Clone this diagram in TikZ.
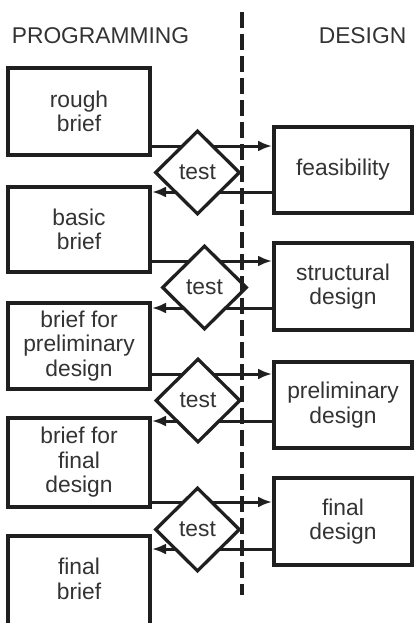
\documentclass[tikz,border=0pt]{standalone}
\usepackage{fontspec}
\setmainfont{Liberation Sans}
\usetikzlibrary{shapes.geometric,arrows.meta}
\tikzset{
  box/.style={draw=black!88, line width=4pt, align=center, inner sep=0pt, text=black!80,
    font=\fontsize{22.8}{24.5}\selectfont},
  testd/.style={diamond, draw=black!88, fill=white, line width=3.3pt, inner sep=0pt,
    minimum width=85pt, minimum height=84pt, text=black!80, font=\fontsize{22.8}{24.5}\selectfont},
  arr/.style={draw=black!88, line width=3pt, -{Latex[length=14pt,width=11pt]}},
  divider/.style={draw=black!88, line width=4pt, dash pattern=on 16pt off 6pt},
  header/.style={inner sep=0pt, text=black!80, font=\fontsize{22.8}{24.5}\selectfont}
}
\begin{document}
\begin{tikzpicture}[x=1pt,y=-1pt]
\useasboundingbox (0,0) rectangle (414,623);
\clip (0,0) rectangle (414,623);
\fill[white] (0,0) rectangle (414,623);

\node[header] (hp) at (100.5,35.5) {PROGRAMMING};
\node[header] (hd) at (362.5,35.5) {DESIGN};

% programming boxes
\node[box, minimum width=142pt, minimum height=87pt] (L1) at (79,111.5) {rough\\brief};
\node[box, minimum width=142pt, minimum height=85pt] (L2) at (79,229.5) {basic\\brief};
\node[box, minimum width=142pt, minimum height=86pt] (L3) at (79,346) {brief for\\preliminary\\design};
\node[box, minimum width=142pt, minimum height=89pt] (L4) at (79,462.5) {brief for\\final\\design};
\node[box, minimum width=142pt, minimum height=110pt, text depth=0pt] (L5) at (79,591) {};
\node[header, align=center] (t5) at (79,579) {final\\brief};

% design boxes
\node[box, minimum width=138pt, minimum height=86pt] (R1) at (343,170) {feasibility};
\node[box, minimum width=138pt, minimum height=87pt] (R2) at (343,286.5) {structural\\design};
\node[box, minimum width=138pt, minimum height=86pt] (R3) at (343,405) {preliminary\\design};
\node[box, minimum width=138pt, minimum height=87pt] (R4) at (343,521.5) {final\\design};

% arrow levels
\coordinate (f1) at (0,146);   \coordinate (b1) at (0,192);
\coordinate (f2) at (0,261);   \coordinate (b2) at (0,308);
\coordinate (f3) at (0,374);   \coordinate (b3) at (0,421);
\coordinate (f4) at (0,502);   \coordinate (b4) at (0,549);

\draw[arr] (L1.east |- f1) -- (R1.west |- f1);
\draw[arr] (R1.west |- b1) -- (L2.east |- b1);
\draw[arr] (L2.east |- f2) -- (R2.west |- f2);
\draw[arr] (R2.west |- b2) -- (L3.east |- b2);
\draw[arr] (L3.east |- f3) -- (R3.west |- f3);
\draw[arr] (R3.west |- b3) -- (L4.east |- b3);
\draw[arr] (L4.east |- f4) -- (R4.west |- f4);
\draw[arr] (R4.west |- b4) -- (L5.east |- b4);

% test diamonds
\node[testd] (D1) at (197.5,172.5) {test};
\node[testd] (D2) at (204.5,287.5) {test};
\node[testd] (D3) at (198,400.5) {test};
\node[testd] (D4) at (197.5,529.5) {test};

% divider
\coordinate (vt) at (241.5,12);
\coordinate (vb) at (241.5,595);
\draw[divider] (vt) -- (vb);
\end{tikzpicture}
\end{document}
